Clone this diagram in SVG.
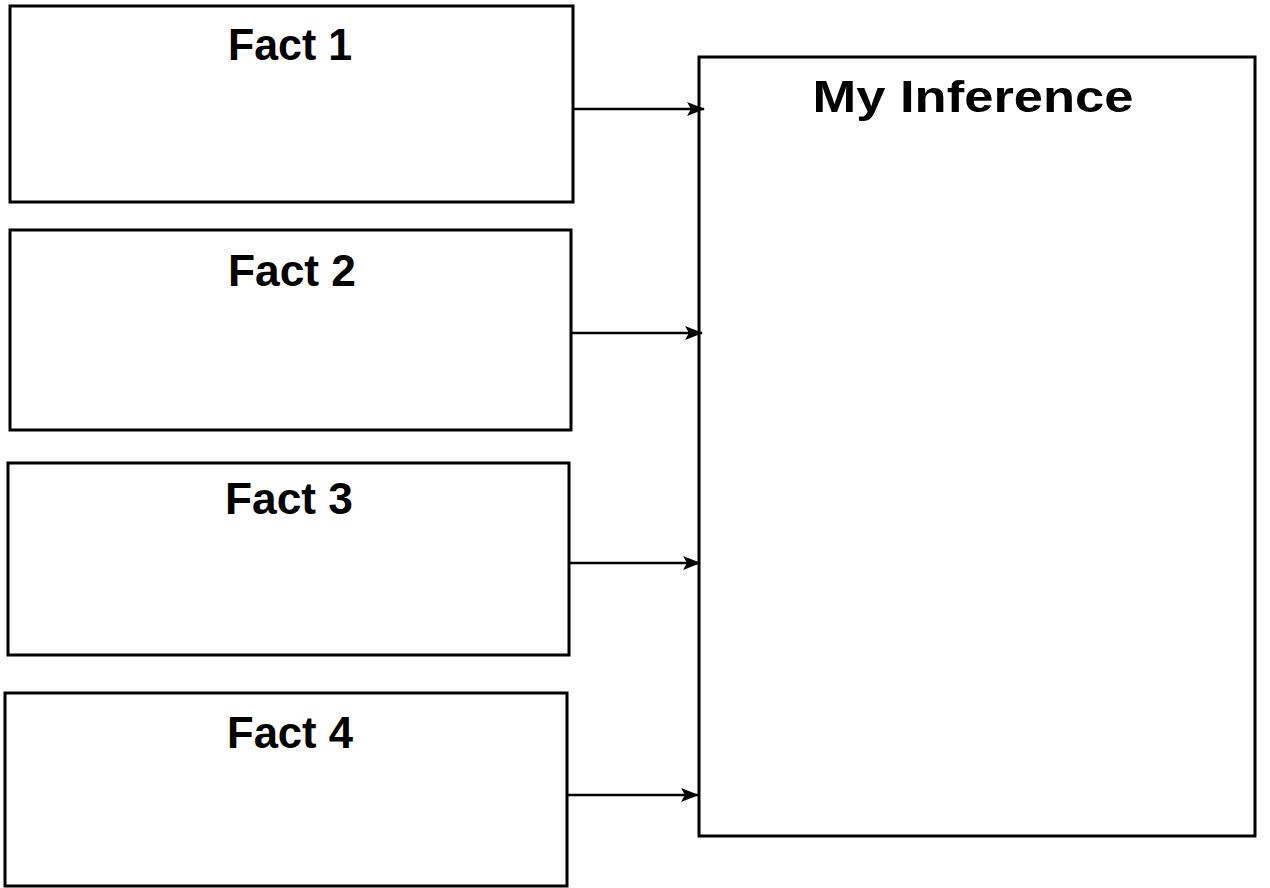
<svg xmlns="http://www.w3.org/2000/svg" width="1270" height="888" viewBox="0 0 1270 888">
<defs>
<style>
.box{fill:#fff;stroke:#000;stroke-width:3}
.t{font-family:"Liberation Sans",Arial,sans-serif;font-weight:bold;font-size:44px;fill:#000;text-anchor:middle}
.c{stroke:#000;stroke-width:2.5;fill:none}
</style>
<marker id="ah" markerWidth="18" markerHeight="14" refX="17" refY="7" orient="auto" markerUnits="userSpaceOnUse">
<path d="M0,0 L18,7 L0,14 L4,7 Z" fill="#000"/>
</marker>
</defs>
<rect width="1270" height="888" fill="#fff"/>
<g id="fact1"><rect class="box" x="10" y="6" width="563" height="196"/><text class="t" x="290" y="60" textLength="124" lengthAdjust="spacingAndGlyphs">Fact 1</text></g>
<g id="fact2"><rect class="box" x="10" y="230" width="561" height="200"/><text class="t" x="292" y="286" textLength="128" lengthAdjust="spacingAndGlyphs">Fact 2</text></g>
<g id="fact3"><rect class="box" x="8" y="463" width="561" height="192"/><text class="t" x="289" y="514" textLength="128" lengthAdjust="spacingAndGlyphs">Fact 3</text></g>
<g id="fact4"><rect class="box" x="5" y="693" width="562" height="193"/><text class="t" x="290" y="748" textLength="126" lengthAdjust="spacingAndGlyphs">Fact 4</text></g>
<g id="inference"><rect class="box" x="699" y="57" width="556" height="779"/><text class="t" x="973" y="112" textLength="321" lengthAdjust="spacingAndGlyphs">My Inference</text></g>
<g id="connectors">
<line class="c" x1="573" y1="109" x2="704" y2="109" marker-end="url(#ah)"/>
<line class="c" x1="571" y1="333" x2="702" y2="333" marker-end="url(#ah)"/>
<line class="c" x1="569" y1="563" x2="700" y2="563" marker-end="url(#ah)"/>
<line class="c" x1="567" y1="795" x2="698" y2="795" marker-end="url(#ah)"/>
</g>
</svg>
